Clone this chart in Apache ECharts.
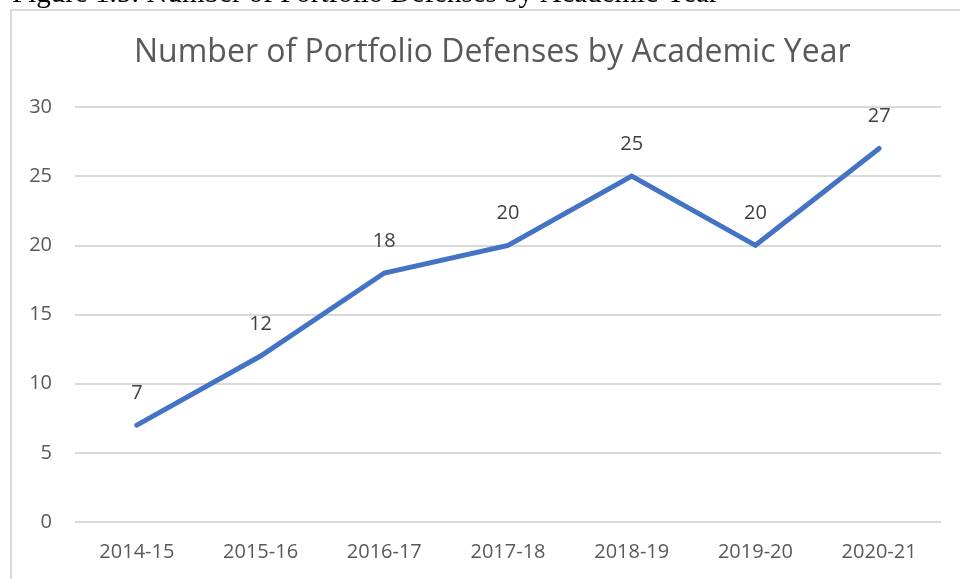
<!DOCTYPE html>
<html><head><meta charset="utf-8">
<script src="https://cdn.jsdelivr.net/npm/echarts@6/dist/echarts.min.js"></script>
<style>html,body{margin:0;padding:0;background:#fff}#c{width:960px;height:579px}</style>
</head><body><div id="c"></div>
<script>
const categories = ['2014-15','2015-16','2016-17','2017-18','2018-19','2019-20','2020-21'];
const defenses = [7, 12, 18, 20, 25, 20, 27];
const yTicks = [0, 5, 10, 15, 20, 25, 30];
const chart = echarts.init(document.getElementById('c'), null, {renderer:'canvas'});
chart.setOption({
  animation: false,
  backgroundColor: '#fff',
  graphic: [
    {type:'text', left: 12, top: -20, style:{text:'Figure 1.5: Number of Portfolio Defenses by Academic Year', font:'29px "Liberation Serif"', fill:'#000'}},
    {type:'rect', shape:{x:11, y:10, width:1000, height:600}, style:{fill:'none', stroke:'#d9d9d9', lineWidth:2}, silent:true}
  ],
  title: {
    text: 'Number of Portfolio Defenses by Academic Year',
    left: 129, top: 32,
    textStyle: {fontFamily:'Open Sans', fontWeight:'normal', fontSize:32, color:'#595959'}
  },
  grid: {left: 75, right: 19, top: 107, bottom: 57, containLabel:false},
  xAxis: {
    type: 'category', data: categories, boundaryGap: true,
    axisLine: {show:false}, axisTick:{show:false},
    axisLabel: {fontFamily:'Open Sans', fontSize:20, color:'#595959', margin:20}
  },
  yAxis: {
    type: 'value', min: yTicks[0], max: yTicks[yTicks.length-1], interval: 5,
    axisLine:{show:false}, axisTick:{show:false},
    splitLine: {lineStyle:{color:'#d9d9d9', width:2}},
    axisLabel: {fontFamily:'Open Sans', fontSize:20, color:'#595959', margin:23}
  },
  series: [{
    type: 'line', data: defenses, symbol: 'circle', symbolSize: 2, showSymbol: true,
    itemStyle: {color:'#4472C4'},
    lineStyle: {color:'#4472C4', width:5, cap:'round', join:'miter'},
    label: {show:true, position:'top', distance:21, fontFamily:'Open Sans', fontSize:20, color:'#404040'}
  }]
});
</script></body></html>
